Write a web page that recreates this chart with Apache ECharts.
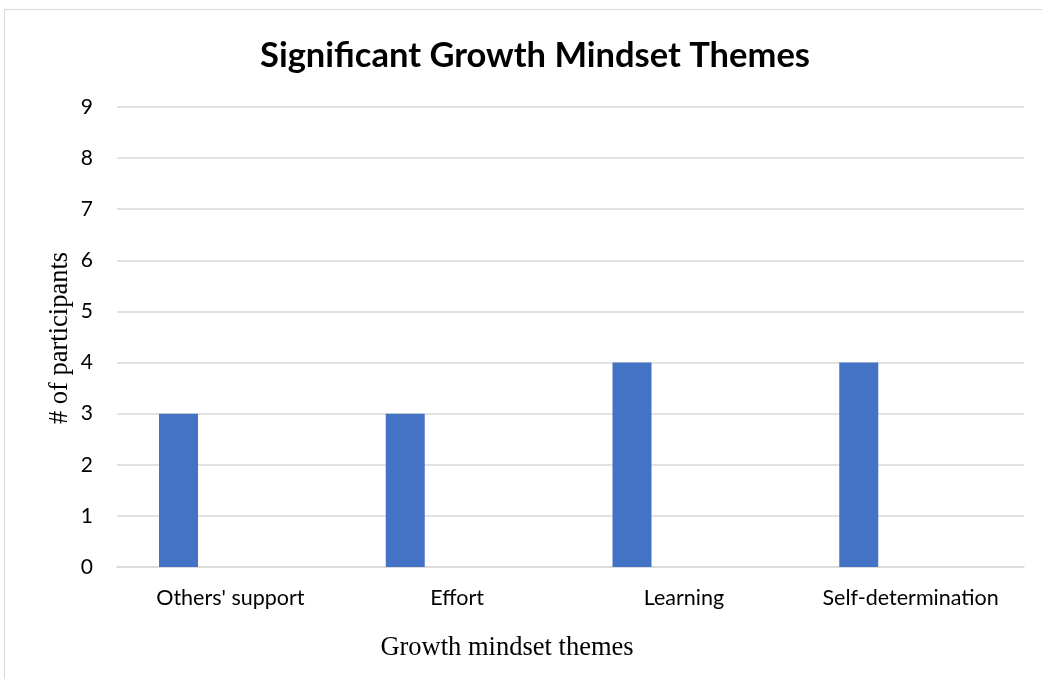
<!DOCTYPE html>
<html>
<head>
<meta charset="utf-8">
<script src="https://cdn.jsdelivr.net/npm/echarts@6/dist/echarts.min.js"></script>
<style>
html,body{margin:0;padding:0;background:#fff;}
#frame{position:absolute;left:4px;top:9px;width:1040px;height:680px;border:1px solid #d9d9d9;box-sizing:border-box;}
#main{position:absolute;left:0;top:0;width:1042px;height:679px;}
</style>
</head>
<body>
<div id="frame"></div>
<div id="main"></div>
<script>
const categories = ["Others' support", "Effort", "Learning", "Self-determination"];
const participants = [3, 3, 4, 4];
const emptyA = [null, null, null, null];
const emptyB = [null, null, null, null];
const yTicks = [0, 9, 1];

const chart = echarts.init(document.getElementById('main'), null, {renderer: 'canvas'});
const labelFont = 'Lato, "Open Sans", sans-serif';
chart.setOption({
  backgroundColor: 'transparent',
  animation: false,
  title: {
    text: 'Significant Growth Mindset Themes',
    left: 530, top: 33, textAlign: 'center',
    textStyle: {fontFamily: labelFont, fontWeight: 'bold', fontSize: 34.5, color: '#000'}
  },
  grid: {left: 117, right: 18, top: 107, bottom: 112, containLabel: false},
  xAxis: {
    type: 'category', data: categories,
    axisLine: {show: true, lineStyle: {color: '#d9d9d9', width: 1.5}},
    axisTick: {show: false},
    axisLabel: {interval: 0, hideOverlap: false, fontFamily: labelFont, fontSize: 21.5, color: '#000', margin: 20}
  },
  yAxis: {
    type: 'value', min: yTicks[0], max: yTicks[1], interval: yTicks[2],
    axisLine: {show: false}, axisTick: {show: false},
    splitLine: {lineStyle: {color: '#d9d9d9', width: 1.5}},
    axisLabel: {fontFamily: labelFont, fontSize: 21, color: '#000', margin: 24}
  },
  graphic: [
    {type: 'text', x: 507, y: 648, style: {text: 'Growth mindset themes', font: '26.5px "Liberation Serif", "Times New Roman", serif', fill: '#000', align: 'center', verticalAlign: 'middle'}},
    {type: 'text', x: 60, y: 338, rotation: Math.PI/2, style: {text: '# of participants', font: '26.5px "Liberation Serif", "Times New Roman", serif', fill: '#000', align: 'center', verticalAlign: 'middle'}}
  ],
  series: [
    {type: 'bar', data: participants, barWidth: 39, barGap: '33%', itemStyle: {color: '#4472C4'}},
    {type: 'bar', data: emptyA, barWidth: 39, barGap: '33%'},
    {type: 'bar', data: emptyB, barWidth: 39, barGap: '33%'}
  ]
});
</script>
</body>
</html>
